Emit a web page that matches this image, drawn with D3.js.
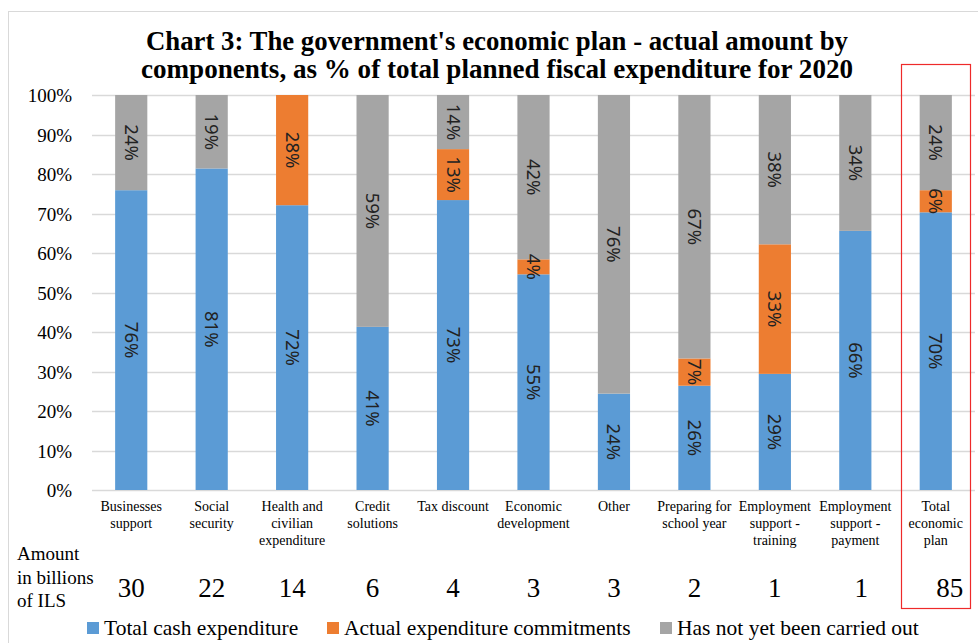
<!DOCTYPE html>
<html>
<head>
<meta charset="utf-8">
<script src="https://cdn.jsdelivr.net/npm/d3@7"></script>
<style>
  body { margin: 0; background: #fff; }
  svg { display: block; }
</style>
</head>
<body>
<svg id="chart" width="978" height="643"></svg>
<script>
// categories (lines of each x label) and amounts in billions of ILS
var categories = [
    ["Businesses", "support"],
    ["Social", "security"],
    ["Health and", "civilian", "expenditure"],
    ["Credit", "solutions"],
    ["Tax discount"],
    ["Economic", "development"],
    ["Other"],
    ["Preparing for", "school year"],
    ["Employment", "support -", "training"],
    ["Employment", "support -", "payment"],
    ["Total", "economic", "plan"]
];
var amounts = [30, 22, 14, 6, 4, 3, 3, 2, 1, 1, 85];

// series, % of planned expenditure
var cashValues = [75.9, 81.4, 72.1, 41.3, 73.4, 54.6, 24.4, 26.4, 29.4, 65.6, 70.3];
var commitValues = [0, 0, 27.9, 0, 12.9, 3.8, 0, 6.9, 32.8, 0, 5.6];
var notYetValues = [24.1, 18.6, 0, 58.7, 13.7, 41.6, 75.6, 66.7, 37.8, 34.4, 24.1];

var seriesNames = ["Total cash expenditure", "Actual expenditure commitments", "Has not yet been carried out"];
var seriesColors = ["#5b9bd5", "#ed7d31", "#a5a5a5"];
var yTicks = [0, 10, 20, 30, 40, 50, 60, 70, 80, 90, 100];

var svg = d3.select("#chart");
var serif = "'Liberation Serif', 'Times New Roman', serif";
var sans = "'Noto Sans', 'DejaVu Sans', sans-serif";

// outer frame
svg.append("rect")
    .attr("x", 8.5).attr("y", 11.5)
    .attr("width", 975).attr("height", 640)
    .attr("fill", "none").attr("stroke", "#d9d9d9");

// title
var titleLines = ["Chart 3: The government's economic plan - actual amount by",
                  "components, as % of total planned fiscal expenditure for 2020"];
svg.selectAll(".title").data(titleLines).enter().append("text")
    .attr("class", "title")
    .attr("x", 497)
    .attr("y", function(d, i) { return 50 + i * 28; })
    .attr("text-anchor", "middle")
    .attr("font-family", serif)
    .attr("font-weight", "bold")
    .attr("font-size", "27px")
    .attr("textLength", function(d, i) { return i === 0 ? 702 : 712; })
    .attr("lengthAdjust", "spacingAndGlyphs")
    .text(function(d) { return d; });

var x = d3.scaleBand()
    .domain(d3.range(categories.length))
    .range([91, 976])
    .paddingInner(0.6)
    .paddingOuter(0.3);

var y = d3.scaleLinear().domain([0, 100]).range([490, 95]);

// gridlines
svg.append("g").selectAll("line").data(yTicks).enter().append("line")
    .attr("x1", 92).attr("x2", 975)
    .attr("y1", function(d) { return Math.round(y(d)) + 0.5; })
    .attr("y2", function(d) { return Math.round(y(d)) + 0.5; })
    .attr("stroke", "#d9d9d9").attr("stroke-width", 1.3);

// y axis labels
var yAxis = d3.axisLeft(y).tickValues(yTicks).tickSize(0).tickPadding(0)
    .tickFormat(function(d) { return d + "%"; });
var yg = svg.append("g").attr("transform", "translate(72,0)").call(yAxis);
yg.select(".domain").remove();
yg.selectAll("text")
    .attr("font-family", serif)
    .attr("font-size", "19px")
    .attr("fill", "#000")
    .attr("dy", "0.35em");

// stack the data
var rows = categories.map(function(c, i) {
    return { i: i, s0: cashValues[i], s1: commitValues[i], s2: notYetValues[i] };
});
var stack = d3.stack().keys(["s0", "s1", "s2"]);
var layers = stack(rows);

var bw = x.bandwidth();
var lg = svg.selectAll(".layer").data(layers).enter().append("g")
    .attr("class", "layer")
    .attr("fill", function(d, i) { return seriesColors[i]; });

lg.selectAll("rect").data(function(d) { return d; }).enter().append("rect")
    .attr("x", function(d) { return x(d.data.i); })
    .attr("width", bw)
    .attr("y", function(d) { return y(d[1]); })
    .attr("height", function(d) { return y(d[0]) - y(d[1]); });

// value labels, rotated
var labels = [];
layers.forEach(function(layer) {
    layer.forEach(function(d) {
        var v = d[1] - d[0];
        if (v > 0) labels.push({ i: d.data.i, mid: (d[0] + d[1]) / 2, v: v });
    });
});
svg.append("g").selectAll("text").data(labels).enter().append("text")
    .attr("transform", function(d) {
        return "translate(" + (x(d.i) + bw / 2) + "," + y(d.mid) + ") rotate(90)";
    })
    .attr("text-anchor", "middle")
    .attr("dy", "0.35em")
    .attr("font-family", sans)
    .attr("font-size", "18.5px")
    .attr("fill", "#222")
    .text(function(d) { return Math.round(d.v) + "%"; });

// category labels
var cat = svg.append("g").selectAll("text").data(categories).enter().append("text")
    .attr("x", function(d, i) { return x(i) + bw / 2; })
    .attr("y", 511)
    .attr("text-anchor", "middle")
    .attr("font-family", serif)
    .attr("font-size", "14px")
    .attr("fill", "#000");
cat.selectAll("tspan").data(function(d) { return d; }).enter().append("tspan")
    .attr("x", function() { return this.parentNode.getAttribute("x"); })
    .attr("dy", function(d, j) { return j === 0 ? 0 : 17; })
    .text(function(d) { return d; });

// amount row
svg.append("g").selectAll("text").data(["Amount", "in billions", "of ILS"]).enter().append("text")
    .attr("x", 17)
    .attr("y", function(d, i) { return 560 + i * 23.5; })
    .attr("font-family", serif)
    .attr("font-size", "19px")
    .attr("fill", "#000")
    .text(function(d) { return d; });

svg.append("g").selectAll("text").data(amounts).enter().append("text")
    .attr("x", function(d, i) { return x(i) + bw / 2 + (i === amounts.length - 1 ? 14 : (i === amounts.length - 2 ? 6 : 0)); })
    .attr("y", 597)
    .attr("text-anchor", "middle")
    .attr("font-family", serif)
    .attr("font-size", "27px")
    .attr("fill", "#000")
    .text(function(d) { return d; });

// red highlight box around total
svg.append("rect")
    .attr("x", 901.5).attr("y", 64.5)
    .attr("width", 69).attr("height", 544)
    .attr("fill", "none")
    .attr("stroke", "#ee2a2a")
    .attr("stroke-width", 1.2);

// legend
var legendX = [87, 327, 660];
var leg = svg.append("g").selectAll("g").data(seriesNames).enter().append("g")
    .attr("transform", function(d, i) { return "translate(" + legendX[i] + ",622)"; });
leg.append("rect")
    .attr("width", 12).attr("height", 12)
    .attr("fill", function(d, i) { return seriesColors[i]; });
leg.append("text")
    .attr("x", 17).attr("y", 13)
    .attr("font-family", serif)
    .attr("font-size", "21.5px")
    .attr("fill", "#000")
    .text(function(d) { return d; });
</script>
</body>
</html>
